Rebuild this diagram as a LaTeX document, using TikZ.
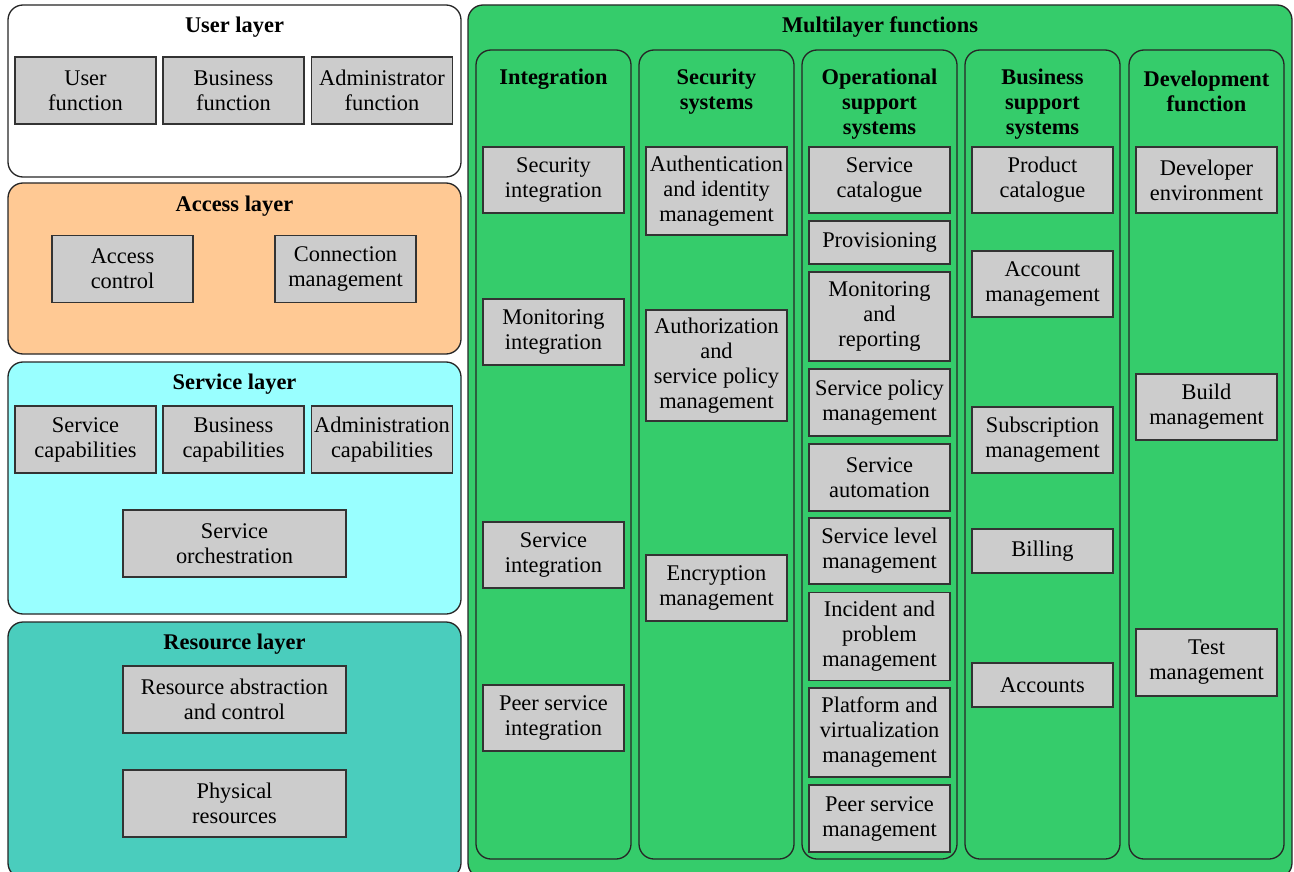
\documentclass[tikz,border=0pt]{standalone}
\usepackage{fontspec}
\setmainfont{Liberation Serif}
\newfontfamily\diagfont{Liberation Serif}
\usetikzlibrary{positioning}

\definecolor{boxgray}{HTML}{CCCCCC}
\definecolor{accessfill}{HTML}{FFC994}
\definecolor{servicefill}{HTML}{99FFFF}
\definecolor{resourcefill}{HTML}{4ACDBD}
\definecolor{multifill}{HTML}{35CC6B}

\tikzset{
	layer/.style={draw=black!85, line width=1.3pt, rounded corners=15pt},
	func/.style={draw=black!80, fill=boxgray, line width=1.5pt, align=center, inner sep=0pt, font=\diagfont\fontsize{22.4}{25}\selectfont},
	title/.style={align=center, inner sep=0pt, font=\diagfont\fontsize{22.4}{25}\selectfont\bfseries}
}

\begin{document}
\begin{tikzpicture}[x=1pt, y=-1pt]
		%%%%% START %%%%%
		\useasboundingbox (0, 0) rectangle (1294, 872);
		
		% left layers
		\draw[layer, fill=white] (8, 5) rectangle (461, 177);
		\draw[layer, fill=accessfill] (8, 183) rectangle (461, 354);
		\draw[layer, fill=servicefill] (8, 362) rectangle (461, 614);
		\draw[layer, fill=resourcefill] (8, 622) rectangle (461, 878);
		
		\node[title] (usrlayer) at (234.5, 27) {User layer};
		\node[func, minimum width=141pt, minimum height=67pt] (usrfn) at (85.5, 90.5) {User\\function};
		\node[func, minimum width=141pt, minimum height=67pt] (busfn) at (233.5, 90.5) {Business\\function};
		\node[func, minimum width=141pt, minimum height=67pt] (admfn) at (382, 90.5) {Administrator\\function};
		
		\node[title] (acclayer) at (234.5, 206) {Access layer};
		\node[func, minimum width=141pt, minimum height=67pt] (accctl) at (122.5, 269) {Access\\control};
		\node[func, minimum width=141pt, minimum height=67pt] (connmgt) at (345.5, 269) {Connection\\management};
		
		\node[title] (svclayer) at (234.5, 384) {Service layer};
		\node[func, minimum width=141pt, minimum height=67pt] (svccap) at (85.5, 439.5) {Service\\capabilities};
		\node[func, minimum width=141pt, minimum height=67pt] (buscap) at (233.5, 439.5) {Business\\capabilities};
		\node[func, minimum width=141pt, minimum height=67pt] (admcap) at (382, 439.5) {Administration\\capabilities};
		\node[func, minimum width=223pt, minimum height=67pt] (svcorch) at (234.5, 543.5) {Service\\orchestration};
		
		\node[title] (reslayer) at (234.5, 644) {Resource layer};
		\node[func, minimum width=223pt, minimum height=67pt] (resabs) at (234.5, 699.5) {Resource abstraction\\and control};
		\node[func, minimum width=223pt, minimum height=67pt] (physres) at (234.5, 803.5) {Physical\\resources};
		
		% multilayer functions
		\draw[layer, fill=multifill] (468, 5) rectangle (1292, 878);
		\node[title] (multi) at (880, 27) {Multilayer functions};
		
		\draw[layer, fill=multifill] (476, 50) rectangle (631, 859);
		\draw[layer, fill=multifill] (639, 50) rectangle (794, 859);
		\draw[layer, fill=multifill] (802, 50) rectangle (957, 859);
		\draw[layer, fill=multifill] (965, 50) rectangle (1120, 859);
		\draw[layer, fill=multifill] (1129, 50) rectangle (1284, 859);
		
		\node[title] (integ) at (553.5, 79) {Integration};
		\node[func, minimum width=141pt, minimum height=66pt] (secint) at (553.5, 180) {Security\\integration};
		\node[func, minimum width=141pt, minimum height=66pt] (monint) at (553.5, 332) {Monitoring\\integration};
		\node[func, minimum width=141pt, minimum height=66pt] (svcint) at (553.5, 555) {Service\\integration};
		\node[func, minimum width=141pt, minimum height=66pt] (peerint) at (553.5, 718) {Peer service\\integration};
		
		\node[title] (secsys) at (716.5, 91.5) {Security\\systems};
		\node[func, minimum width=141pt, minimum height=88pt] (authid) at (716.5, 191) {Authentication\\and identity\\management};
		\node[func, minimum width=141pt, minimum height=111pt] (authz) at (716.5, 365.5) {Authorization\\and\\service policy\\management};
		\node[func, minimum width=141pt, minimum height=66pt] (encr) at (716.5, 588) {Encryption\\management};
		
		\node[title] (oss) at (879.5, 104) {Operational\\support\\systems};
		\node[func, minimum width=141pt, minimum height=66pt] (svccat) at (879.5, 180) {Service\\catalogue};
		\node[func, minimum width=141pt, minimum height=43pt] (prov) at (879.5, 242.5) {Provisioning};
		\node[func, minimum width=141pt, minimum height=89pt] (monrep) at (879.5, 316.5) {Monitoring\\and\\reporting};
		\node[func, minimum width=141pt, minimum height=67pt] (svcpol) at (879.5, 402.5) {Service policy\\management};
		\node[func, minimum width=141pt, minimum height=67pt] (svcauto) at (879.5, 477.5) {Service\\automation};
		\node[func, minimum width=141pt, minimum height=66pt] (svclvl) at (879.5, 551) {Service level\\management};
		\node[func, minimum width=141pt, minimum height=88pt] (incprob) at (879.5, 636.5) {Incident and\\problem\\management};
		\node[func, minimum width=141pt, minimum height=89pt] (platvirt) at (879.5, 732.5) {Platform and\\virtualization\\management};
		\node[func, minimum width=141pt, minimum height=67pt] (peermgt) at (879.5, 818.5) {Peer service\\management};
		
		\node[title] (bss) at (1042.5, 104) {Business\\support\\systems};
		\node[func, minimum width=141pt, minimum height=66pt] (prodcat) at (1042.5, 180) {Product\\catalogue};
		\node[func, minimum width=141pt, minimum height=66pt] (acctmgt) at (1042.5, 284) {Account\\management};
		\node[func, minimum width=141pt, minimum height=66pt] (submgt) at (1042.5, 440) {Subscription\\management};
		\node[func, minimum width=141pt, minimum height=44pt] (billing) at (1042.5, 551) {Billing};
		\node[func, minimum width=141pt, minimum height=44pt] (accounts) at (1042.5, 685) {Accounts};
		
		\node[title] (devfn) at (1206.5, 91.5) {Development\\function};
		\node[func, minimum width=141pt, minimum height=66pt] (devenv) at (1206.5, 180) {Developer\\environment};
		\node[func, minimum width=141pt, minimum height=66pt] (buildmgt) at (1206.5, 407) {Build\\management};
		\node[func, minimum width=141pt, minimum height=67pt] (testmgt) at (1206.5, 662.5) {Test\\management};
		
		%%%%% END %%%%%
\end{tikzpicture}
\end{document}
